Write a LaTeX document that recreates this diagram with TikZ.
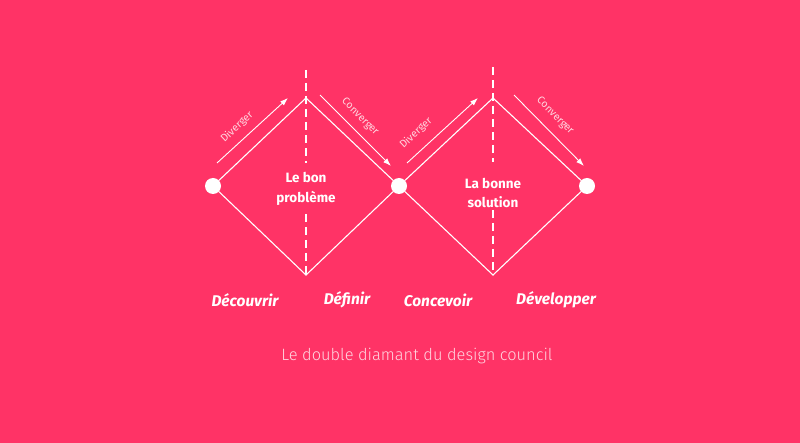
\documentclass[tikz,border=0pt]{standalone}
\usepackage{fontspec}
\setmainfont{Fira Sans}
\newfontfamily\lightfont{Fira Sans Light}
\usetikzlibrary{arrows.meta}
\definecolor{bg}{HTML}{FF3366}
\definecolor{soft}{HTML}{FFD6E0}
\begin{document}
\begin{tikzpicture}[x=1pt,y=-1pt,
  dot/.style={circle,fill=white,inner sep=0pt,minimum size=16pt},
  edge/.style={draw=white,line width=1.1pt},
  axis/.style={draw=white,line width=1.8pt,dash pattern=on 8pt off 5pt},
  flow/.style={draw=white,line width=0.9pt,-{Latex[length=8pt,width=5.5pt]}},
  flowlabel/.style={text=soft,font=\fontsize{10.5}{12}\selectfont},
  centre/.style={text=white,font=\bfseries\fontsize{13.5}{19.5}\selectfont,align=center},
  phase/.style={text=white,font=\bfseries\itshape\fontsize{15.5}{17}\selectfont},
  caption/.style={text=soft,font=\lightfont\fontsize{16.4}{20}\selectfont}]
\fill[bg] (0,0) rectangle (800,443);
\useasboundingbox (0,0) rectangle (800,443);
% vertices
\node[dot] (c1) at (213,186) {};
\node[dot] (c2) at (399,186) {};
\node[dot] (c3) at (587,186) {};
\coordinate (t1) at (306,98);
\coordinate (b1) at (306,275);
\coordinate (t2) at (493,98);
\coordinate (b2) at (493,275);
% diamonds
\draw[edge] (c1) -- (t1) -- (c2);
\draw[edge] (c1) -- (b1) -- (c2);
\draw[edge] (c2) -- (t2) -- (c3);
\draw[edge] (c2) -- (b2) -- (c3);
% axes
\coordinate (a1s) at (306,70);
\coordinate (a1m) at (306,163);
\coordinate (a1n) at (306,214);
\coordinate (a2s) at (493,67);
\coordinate (a2m) at (493,162);
\coordinate (a2n) at (493,210);
\draw[axis] (a1s) -- (a1m);
\draw[axis] (a1n) -- (b1);
\draw[axis] (a2s) -- (a2m);
\draw[axis] (a2n) -- (b2);
% arrows
\coordinate (d1s) at (217,163); \coordinate (d1e) at (288,98);
\coordinate (v1s) at (320,95);  \coordinate (v1e) at (391,166);
\coordinate (d2s) at (407,163); \coordinate (d2e) at (478,98);
\coordinate (v2s) at (514,95);  \coordinate (v2e) at (584,166);
\draw[flow] (d1s) -- (d1e);
\draw[flow] (v1s) -- (v1e);
\draw[flow] (d2s) -- (d2e);
\draw[flow] (v2s) -- (v2e);
\node[flowlabel,rotate=43] (ld1) at (237,127) {Diverger};
\node[flowlabel,rotate=-45] (lv1) at (360,117) {Converger};
\node[flowlabel,rotate=43] (ld2) at (416,133) {Diverger};
\node[flowlabel,rotate=-45] (lv2) at (555,116) {Converger};
% centre texts
\node[centre] (p1) at (306,189) {Le bon\\problème};
\node[centre] (p2) at (493,193) {La bonne\\solution};
% phases
\node[phase] (f1) at (245,300) {Découvrir};
\node[phase] (f2) at (347,300) {Définir};
\node[phase] (f3) at (438,300) {Concevoir};
\node[phase] (f4) at (556,300) {Développer};
% caption
\node[caption] (cap) at (417,356) {Le double diamant du design council};
\end{tikzpicture}
\end{document}
